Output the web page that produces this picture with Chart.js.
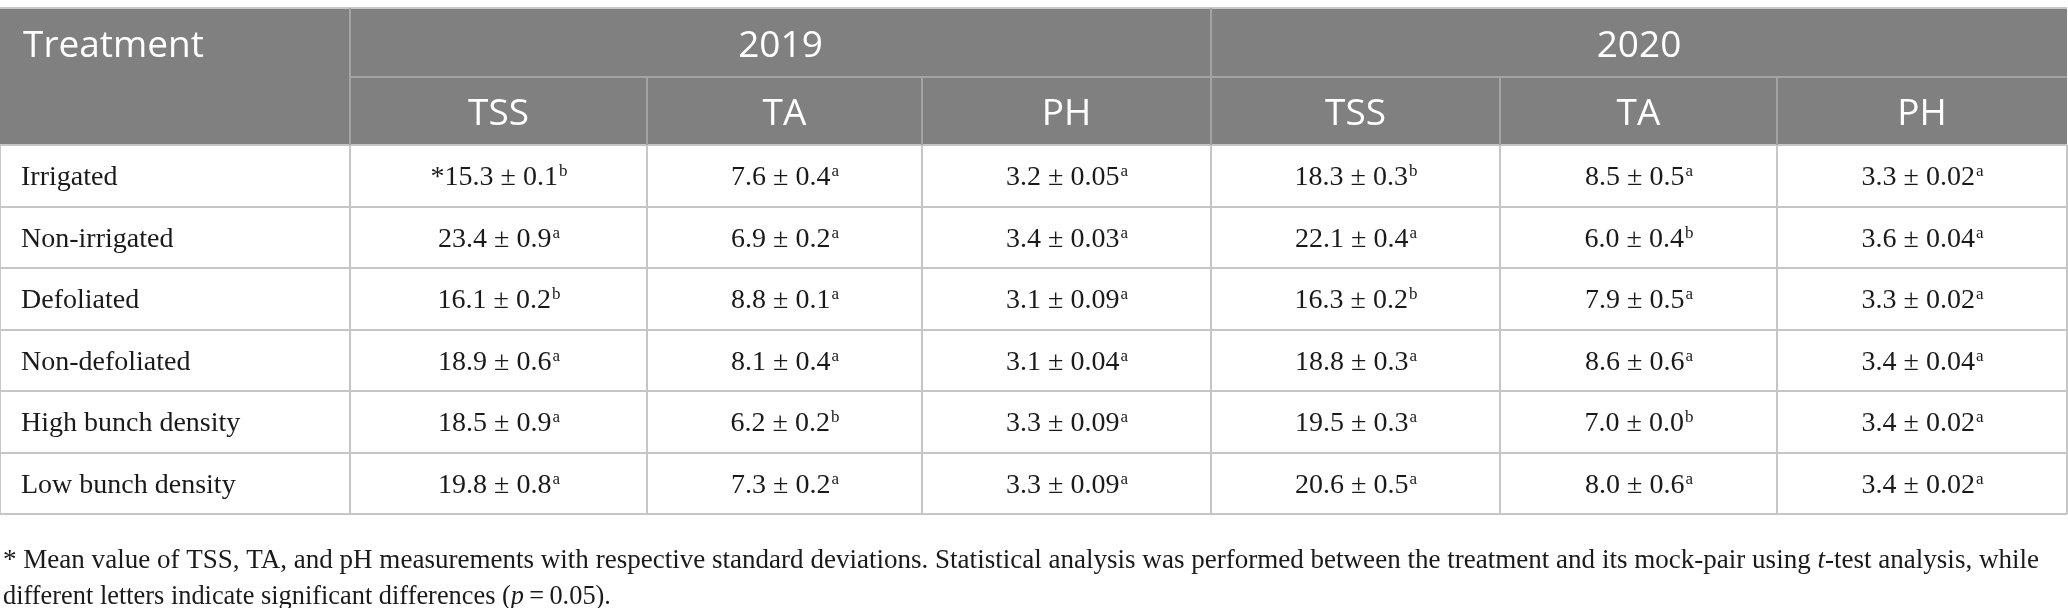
<!DOCTYPE html>
<html>
<head>
<meta charset="utf-8">
<script src="https://cdn.jsdelivr.net/npm/chart.js@4.4.1/dist/chart.umd.min.js"></script>
<style>
  html, body { margin: 0; padding: 0; background: #ffffff; }
  #wrap { width: 2068px; height: 608px; }
</style>
</head>
<body>
<div id="wrap"><canvas id="table1"></canvas></div>
<script>
// ---- data ----
var treatments = ["Irrigated", "Non-irrigated", "Defoliated", "Non-defoliated", "High bunch density", "Low bunch density"];
var years = ["2019", "2020"];
var measures = ["TSS", "TA", "PH"];

var tss2019 = [15.3, 23.4, 16.1, 18.9, 18.5, 19.8];
var tss2019Sd = [0.1, 0.9, 0.2, 0.6, 0.9, 0.8];
var tss2019Sig = ["b", "a", "b", "a", "a", "a"];

var ta2019 = [7.6, 6.9, 8.8, 8.1, 6.2, 7.3];
var ta2019Sd = [0.4, 0.2, 0.1, 0.4, 0.2, 0.2];
var ta2019Sig = ["a", "a", "a", "a", "b", "a"];

var ph2019 = [3.2, 3.4, 3.1, 3.1, 3.3, 3.3];
var ph2019Sd = [0.05, 0.03, 0.09, 0.04, 0.09, 0.09];
var ph2019Sig = ["a", "a", "a", "a", "a", "a"];

var tss2020 = [18.3, 22.1, 16.3, 18.8, 19.5, 20.6];
var tss2020Sd = [0.3, 0.4, 0.2, 0.3, 0.3, 0.5];
var tss2020Sig = ["b", "a", "b", "a", "a", "a"];

var ta2020 = [8.5, 6.0, 7.9, 8.6, 7.0, 8.0];
var ta2020Sd = [0.5, 0.4, 0.5, 0.6, 0.0, 0.6];
var ta2020Sig = ["a", "b", "a", "a", "b", "a"];

var ph2020 = [3.3, 3.6, 3.3, 3.4, 3.4, 3.4];
var ph2020Sd = [0.02, 0.04, 0.02, 0.04, 0.02, 0.02];
var ph2020Sig = ["a", "a", "a", "a", "a", "a"];

// ---- layout (scale units = px of the 2068x608 picture) ----
var colEdges = [0, 350, 647, 922, 1211, 1500, 1777, 2067];
var rowEdges = [8, 77, 145, 207, 268, 330, 391, 453, 514];

var columns = [
  { mean: tss2019, sd: tss2019Sd, sig: tss2019Sig, dp: 1 },
  { mean: ta2019, sd: ta2019Sd, sig: ta2019Sig, dp: 1 },
  { mean: ph2019, sd: ph2019Sd, sig: ph2019Sig, dp: 2 },
  { mean: tss2020, sd: tss2020Sd, sig: tss2020Sig, dp: 1 },
  { mean: ta2020, sd: ta2020Sd, sig: ta2020Sig, dp: 1 },
  { mean: ph2020, sd: ph2020Sd, sig: ph2020Sig, dp: 2 }
];

var headFont = '37px "Open Sans"';
var bodyFont = '28px "Liberation Serif"';
var supFont = '17px "Liberation Serif"';
var noteFont = '27px "Liberation Serif"';
var headBg = '#808080';
var headLine = '#a3a3a3';
var bodyLine = '#c6c6c6';
var textColor = '#1a1a1a';

function drawCellValue(ctx, cx, cy, text, sup) {
  ctx.font = bodyFont;
  var w1 = ctx.measureText(text).width;
  ctx.font = supFont;
  var w2 = ctx.measureText(sup).width;
  var x = cx - (w1 + w2) / 2;
  var base = cy + 9;
  ctx.textAlign = 'left';
  ctx.textBaseline = 'alphabetic';
  ctx.font = bodyFont;
  ctx.fillText(text, x, base);
  ctx.font = supFont;
  ctx.fillText(sup, x + w1 + 1, base - 9);
}

function drawSegments(ctx, x, base, segs, sx) {
  ctx.save();
  ctx.translate(x, base);
  ctx.scale(sx, 1);
  var pos = 0;
  segs.forEach(function (s) {
    ctx.font = (s.italic ? 'italic ' : '') + noteFont;
    ctx.fillText(s.text, pos, 0);
    pos += ctx.measureText(s.text).width;
  });
  ctx.restore();
}

function segWidth(ctx, segs) {
  var w = 0;
  segs.forEach(function (s) {
    ctx.font = (s.italic ? 'italic ' : '') + noteFont;
    w += ctx.measureText(s.text).width;
  });
  return w;
}

var tablePlugin = {
  id: 'tablePlugin',
  afterDraw: function (chart) {
    var ctx = chart.ctx;
    var xs = chart.scales.x, ys = chart.scales.y;
    var X = function (v) { return xs.getPixelForValue(v); };
    var Y = function (v) { return ys.getPixelForValue(v); };
    var nCols = colEdges.length - 1;
    var nRows = rowEdges.length - 1;
    ctx.save();

    // header background
    ctx.fillStyle = headBg;
    ctx.fillRect(X(colEdges[0]), Y(rowEdges[0]), X(colEdges[nCols]) - X(colEdges[0]), Y(rowEdges[2]) - Y(rowEdges[0]));

    // body grid lines
    ctx.lineWidth = 2;
    ctx.strokeStyle = bodyLine;
    for (var r = 2; r <= nRows; r++) {
      ctx.beginPath();
      ctx.moveTo(X(colEdges[0]), Y(rowEdges[r]));
      ctx.lineTo(X(colEdges[nCols]), Y(rowEdges[r]));
      ctx.stroke();
    }
    for (var c = 0; c <= nCols; c++) {
      ctx.beginPath();
      ctx.moveTo(X(colEdges[c]), Y(rowEdges[2]));
      ctx.lineTo(X(colEdges[c]), Y(rowEdges[nRows]));
      ctx.stroke();
    }
    // top border
    ctx.beginPath();
    ctx.moveTo(X(colEdges[0]), Y(rowEdges[0]));
    ctx.lineTo(X(colEdges[nCols]), Y(rowEdges[0]));
    ctx.stroke();

    // header lines
    ctx.strokeStyle = headLine;
    ctx.beginPath();
    ctx.moveTo(X(colEdges[1]), Y(rowEdges[1]));
    ctx.lineTo(X(colEdges[nCols]), Y(rowEdges[1]));
    ctx.stroke();
    [1, 4].forEach(function (c) {
      ctx.beginPath();
      ctx.moveTo(X(colEdges[c]), Y(rowEdges[0]));
      ctx.lineTo(X(colEdges[c]), Y(rowEdges[2]));
      ctx.stroke();
    });
    [2, 3, 5, 6].forEach(function (c) {
      ctx.beginPath();
      ctx.moveTo(X(colEdges[c]), Y(rowEdges[1]));
      ctx.lineTo(X(colEdges[c]), Y(rowEdges[2]));
      ctx.stroke();
    });

    // header text
    ctx.fillStyle = '#ffffff';
    ctx.font = headFont;
    ctx.textBaseline = 'middle';
    ctx.textAlign = 'left';
    var h1 = (Y(rowEdges[0]) + Y(rowEdges[1])) / 2 + 4;
    var h2 = (Y(rowEdges[1]) + Y(rowEdges[2])) / 2 + 3;
    ctx.fillText('Treatment', X(colEdges[0]) + 23, h1);
    ctx.textAlign = 'center';
    years.forEach(function (yr, i) {
      var x0 = X(colEdges[1 + i * 3]), x1 = X(colEdges[4 + i * 3]);
      ctx.fillText(yr, (x0 + x1) / 2, h1);
      measures.forEach(function (m, j) {
        var c = 1 + i * 3 + j;
        ctx.fillText(m, (X(colEdges[c]) + X(colEdges[c + 1])) / 2, h2);
      });
    });

    // body text
    ctx.fillStyle = textColor;
    treatments.forEach(function (t, r) {
      var cy = (Y(rowEdges[r + 2]) + Y(rowEdges[r + 3])) / 2;
      ctx.font = bodyFont;
      ctx.textAlign = 'left';
      ctx.textBaseline = 'alphabetic';
      ctx.fillText(t, X(colEdges[0]) + 21, cy + 9);
      columns.forEach(function (col, c) {
        var cx = (X(colEdges[c + 1]) + X(colEdges[c + 2])) / 2;
        var txt = col.mean[r].toFixed(1) + ' \u00b1 ' + col.sd[r].toFixed(col.dp);
        if (r === 0 && c === 0) txt = '*' + txt;
        drawCellValue(ctx, cx, cy, txt, col.sig[r]);
      });
    });

    // footnote
    var line1 = [
      { text: '* Mean value of TSS, TA, and pH measurements with respective standard deviations. Statistical analysis was performed between the treatment and its mock-pair using ' },
      { text: 't', italic: true },
      { text: '-test analysis, while' }
    ];
    var line2 = [
      { text: 'different letters indicate significant differences (' },
      { text: 'p', italic: true },
      { text: '\u2009=\u20090.05).' }
    ];
    ctx.textAlign = 'left';
    ctx.textBaseline = 'alphabetic';
    var sx = 2036 / segWidth(ctx, line1);
    drawSegments(ctx, 3, Y(568), line1, sx);
    drawSegments(ctx, 3, Y(604), line2, sx * 0.975);

    ctx.restore();
  }
};

var chart = new Chart(document.getElementById('table1').getContext('2d'), {
  type: 'scatter',
  data: { datasets: [{ data: [] }] },
  options: {
    responsive: true,
    maintainAspectRatio: false,
    animation: false,
    devicePixelRatio: 1,
    layout: { padding: 0 },
    scales: {
      x: { type: 'linear', min: 0, max: 2068, display: false },
      y: { type: 'linear', min: 0, max: 608, reverse: true, display: false }
    },
    plugins: { legend: { display: false }, tooltip: { enabled: false } }
  },
  plugins: [tablePlugin]
});
</script>
</body>
</html>
